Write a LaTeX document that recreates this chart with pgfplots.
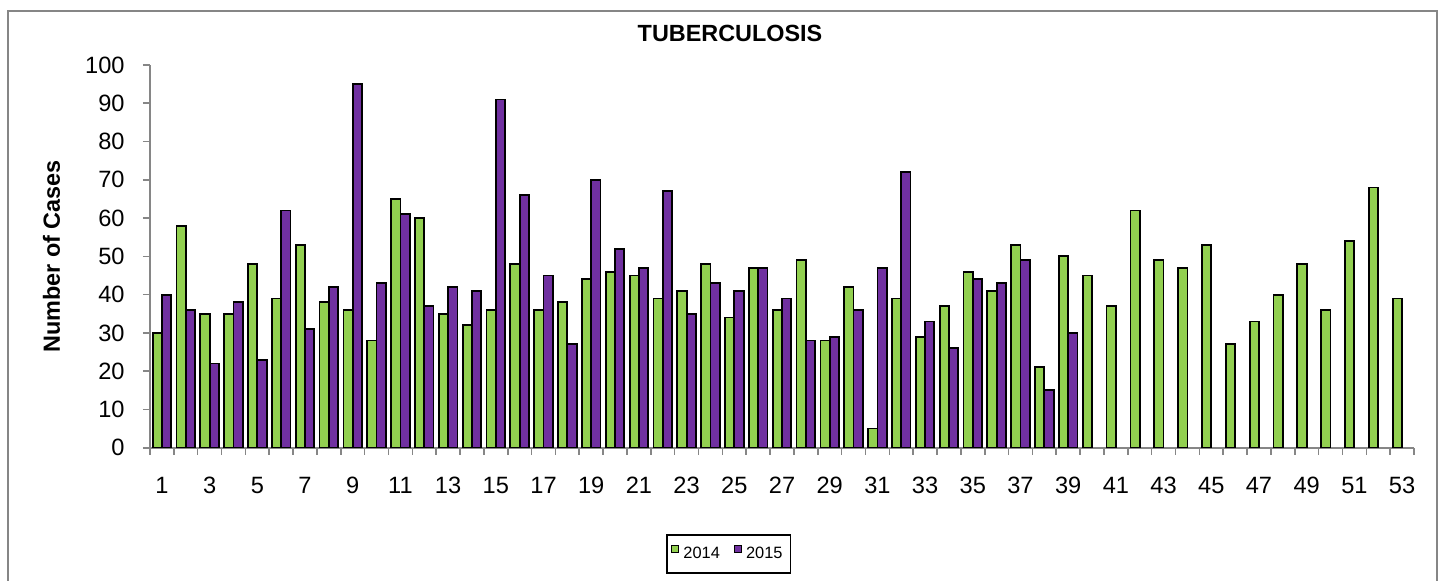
\documentclass[border=0pt]{standalone}
\usepackage{pgfplots}
\pgfplotsset{compat=1.18}
\usepackage{fontspec}
\setmainfont{Liberation Sans}
\definecolor{gr}{HTML}{92D050}
\definecolor{pu}{HTML}{7030A0}
\definecolor{axg}{HTML}{868686}
\begin{document}
\begin{tikzpicture}
\useasboundingbox (0,0) rectangle (720pt,290pt);
\draw[axg, line width=1pt] (4pt,-5pt) -- (4pt,284.5pt) -- (718.5pt,284.5pt) -- (718.5pt,-5pt);
\begin{axis}[
  at={(75pt,66.15pt)}, anchor=south west,
  scale only axis, width=632pt, height=191.35pt,
  xmin=0.5, xmax=53.5, ymin=0, ymax=100,
  enlargelimits=false,
  axis x line*=bottom, axis y line*=left,
  axis line style={draw=axg, line width=1pt, -},
  ybar=0pt, bar width=4.65pt,
  tick align=outside, major tick length=3.5pt,
  tick style={draw=axg, line width=0.8pt},
  ytick={0,10,...,100},
  xtick={0.5,1.5,...,53.5},
  xticklabels={1,{},3,{},5,{},7,{},9,{},11,{},13,{},15,{},17,{},19,{},21,{},23,{},25,{},27,{},29,{},31,{},33,{},35,{},37,{},39,{},41,{},43,{},45,{},47,{},49,{},51,{},53,{}},
  xticklabel style={xshift=5.9623pt, anchor=north, inner sep=0pt, yshift=-11.15pt},
  yticklabel style={anchor=east, inner sep=0pt, xshift=-9pt},
  ticklabel style={font=\fontsize{11.8}{14}\selectfont},
  /pgf/number format/assume math mode=true,
  ylabel={Number of Cases},
  ylabel style={font=\bfseries\fontsize{11.7}{14}\selectfont, at={(axis description cs:-0.0780,0.5)}, anchor=center},
  title={TUBERCULOSIS},
  title style={font=\bfseries\fontsize{11.7}{14}\selectfont, at={(axis description cs:0.4589,1.0523)}, anchor=center},
  legend columns=2,
  legend style={at={(axis description cs:0.458,-0.2778)}, anchor=center, draw=black, line width=0.75pt, inner ysep=4pt, inner xsep=2pt, font=\fontsize{8.2}{10}\selectfont, /tikz/every even column/.append style={column sep=5pt}},
  legend image code/.code={\draw[#1,line width=0.6pt,draw=black] (0pt,0.6pt) rectangle (3.5pt,4.1pt);},
]
\addplot[fill=gr, draw=black, line width=0.9pt] coordinates {
(1,30) (2,58) (3,35) (4,35) (5,48) (6,39) (7,53) (8,38) (9,36) (10,28)
(11,65) (12,60) (13,35) (14,32) (15,36) (16,48) (17,36) (18,38) (19,44) (20,46)
(21,45) (22,39) (23,41) (24,48) (25,34) (26,47) (27,36) (28,49) (29,28) (30,42)
(31,5) (32,39) (33,29) (34,37) (35,46) (36,41) (37,53) (38,21) (39,50) (40,45)
(41,37) (42,62) (43,49) (44,47) (45,53) (46,27) (47,33) (48,40) (49,48) (50,36)
(51,54) (52,68) (53,39)};
\addplot[fill=pu, draw=black, line width=0.9pt] coordinates {
(1,40) (2,36) (3,22) (4,38) (5,23) (6,62) (7,31) (8,42) (9,95) (10,43)
(11,61) (12,37) (13,42) (14,41) (15,91) (16,66) (17,45) (18,27) (19,70) (20,52)
(21,47) (22,67) (23,35) (24,43) (25,41) (26,47) (27,39) (28,28) (29,29) (30,36)
(31,47) (32,72) (33,33) (34,26) (35,44) (36,43) (37,49) (38,15) (39,30)};
\legend{2014,2015}
\end{axis}
\end{tikzpicture}
\end{document}
